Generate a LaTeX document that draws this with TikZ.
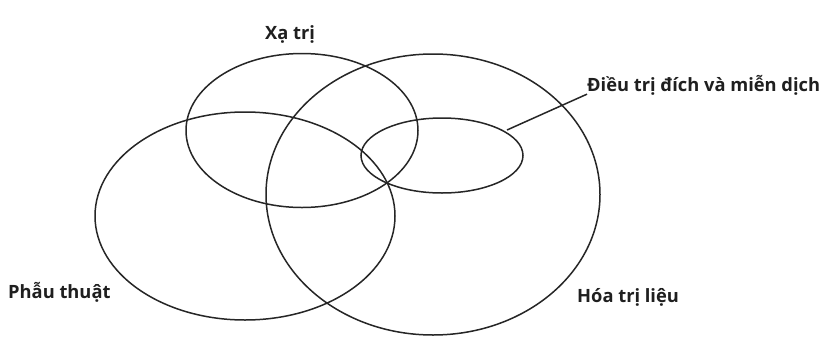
\documentclass[tikz,border=0pt]{standalone}
\usepackage{fontspec}
\setmainfont{Open Sans}
\begin{document}
\begin{tikzpicture}[x=1pt,y=-1pt,
  ring/.style={draw=black!85,line width=1.5pt},
  lbl/.style={font=\bfseries\fontsize{18.3}{21}\selectfont,text=black!88,inner sep=0pt},
  leader/.style={draw=black!85,line width=1.5pt}]
\useasboundingbox[fill=white] (0,0) rectangle (823,338);
\draw[ring] (302,130.5) ellipse [x radius=116, y radius=77];
\draw[ring] (245,216) ellipse [x radius=150, y radius=104];
\draw[ring] (433,194.5) ellipse [x radius=167, y radius=140.5];
\draw[ring] (442,155.5) ellipse [x radius=81, y radius=37.5];
\node[lbl] (xa) at (290,34) {Xạ trị};
\node[lbl,anchor=west] (dieu) at (587,85) {Điều trị đích và miễn dịch};
\node[lbl,anchor=west] (phau) at (8,292) {Phẫu thuật};
\node[lbl,anchor=west] (hoa) at (577,297) {Hóa trị liệu};
\coordinate (lineEnd) at (507,130);
\draw[leader] (lineEnd) -- ([yshift=-3pt]dieu.base west);
\end{tikzpicture}
\end{document}
